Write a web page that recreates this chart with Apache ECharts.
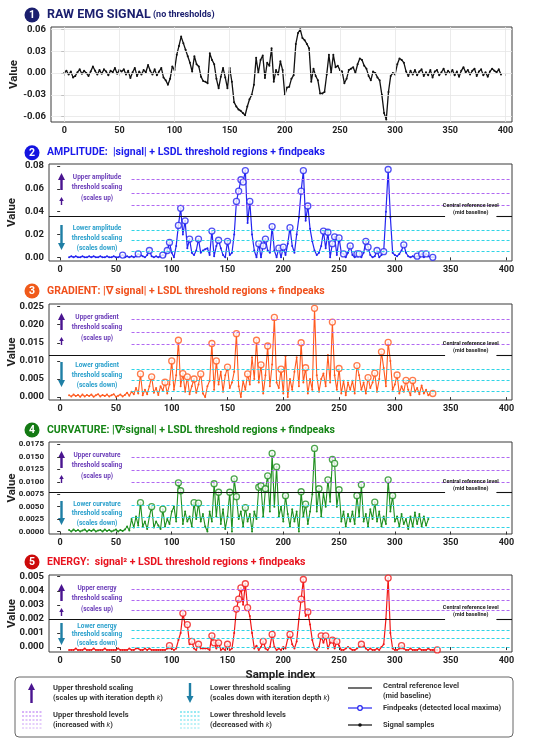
<!DOCTYPE html>
<html>
<head>
<meta charset="utf-8">
<script src="https://cdn.jsdelivr.net/npm/echarts@6/dist/echarts.min.js"></script>
<style>
  html, body { margin: 0; padding: 0; background: #fff; }
  #chart { width: 550px; height: 739px; }
</style>
</head>
<body>
<div id="chart"></div>
<script>
// sample index of the first value of each series, values are every 2 samples
const sampleStep = 2
const rawStart = 0
const ampStart = 8
const gradStart = 8
const curvStart = 8
const energyStart = 8

const sampleTicks = [0, 50, 100, 150, 200, 250, 300, 350, 400]
const rawTicks = [-0.06, -0.03, 0, 0.03, 0.06]
const ampTicks = [0, 0.02, 0.04, 0.06, 0.08]
const gradTicks = [0, 0.005, 0.01, 0.015, 0.02, 0.025]
const curvTicks = [0, 0.0025, 0.005, 0.0075, 0.01, 0.0125, 0.015, 0.0175]
const energyTicks = [0, 0.001, 0.002, 0.003, 0.004, 0.005]

const rawSignal = [
  0.000, 0.003, -0.002, 0.002, -0.006, -0.004, 0.001, 0.005, -0.001, 0.003,
  0.000, -0.004, 0.002, 0.009, 0.003, -0.002, 0.004, -0.001, 0.005, 0.002,
  -0.003, 0.003, 0.001, 0.007, -0.001, 0.004, 0.002, 0.005, -0.002, 0.003,
  -0.007, 0.001, 0.007, -0.004, 0.002, -0.002, 0.004, 0.001, 0.011, 0.003,
  -0.002, 0.005, -0.003, 0.002, 0.007, -0.006, -0.010, -0.016, -0.008, 0.009,
  0.004, 0.025, 0.037, 0.050, 0.041, 0.032, 0.023, 0.014, 0.002, 0.023,
  0.012, 0.009, -0.005, -0.011, -0.012, -0.014, 0.027, 0.018, 0.012, -0.008,
  -0.021, -0.005, 0.007, -0.006, -0.021, 0.007, -0.012, -0.040, -0.046, -0.050,
  -0.052, -0.055, -0.058, -0.046, -0.036, -0.030, -0.016, 0.021, 0.000, 0.018,
  0.024, -0.007, 0.014, 0.010, 0.034, -0.012, 0.004, -0.002, 0.016, 0.004,
  -0.030, -0.020, -0.019, -0.008, -0.003, 0.040, 0.055, 0.060, 0.048, 0.045,
  0.040, 0.034, -0.012, 0.006, -0.004, -0.010, -0.028, -0.028, -0.026, -0.002,
  0.025, 0.000, 0.025, 0.008, 0.010, 0.004, 0.002, -0.014, -0.008, 0.004,
  0.006, 0.008, 0.000, 0.012, 0.020, 0.018, 0.010, 0.006, -0.004, -0.010,
  0.002, 0.000, -0.006, -0.010, -0.030, -0.055, -0.064, -0.026, -0.004, 0.000,
  -0.002, 0.012, 0.020, 0.018, 0.014, 0.002, -0.004, 0.003, -0.002, 0.004,
  -0.003, 0.002, 0.005, -0.004, 0.001, -0.003, 0.004, -0.006, 0.002, 0.004,
  -0.003, 0.001, 0.006, -0.002, 0.003, 0.000, 0.004, -0.003, 0.002, -0.005,
  0.003, 0.008, 0.001, 0.004, -0.002, 0.003, 0.006, -0.004, 0.002, 0.005,
  -0.003, 0.001, -0.005, 0.002, 0.006, 0.003, 0.001, 0.005, -0.002
]

const ampSignal = [
  0.000, 0.001, 0.000, 0.001, 0.000, 0.000, 0.001, 0.000, 0.000, 0.001,
  0.000, 0.001, 0.000, 0.000, 0.001, 0.000, 0.000, 0.001, 0.000, 0.000,
  0.001, 0.000, 0.000, 0.001, 0.002, 0.000, 0.001, 0.000, 0.001, 0.000,
  0.001, 0.003, 0.002, 0.001, 0.000, 0.002, 0.006, 0.001, 0.000, 0.001,
  0.000, 0.001, 0.002, 0.001, 0.006, 0.013, 0.004, 0.000, 0.010, 0.028,
  0.043, 0.020, 0.032, 0.008, 0.016, 0.004, 0.002, 0.006, 0.016, 0.004,
  0.006, 0.007, 0.008, 0.002, 0.023, 0.001, 0.010, 0.015, 0.008, 0.002,
  0.000, 0.014, 0.002, 0.004, 0.020, 0.049, 0.058, 0.068, 0.066, 0.076,
  0.030, 0.049, 0.020, 0.006, 0.000, 0.012, 0.000, 0.010, 0.016, 0.006,
  0.004, 0.027, 0.006, 0.000, 0.008, 0.000, 0.009, 0.002, 0.012, 0.026,
  0.010, 0.004, 0.020, 0.035, 0.058, 0.076, 0.032, 0.045, 0.025, 0.014,
  0.006, 0.002, 0.004, 0.010, 0.023, 0.008, 0.022, 0.000, 0.012, 0.018,
  0.002, 0.017, 0.004, 0.003, 0.000, 0.004, 0.010, 0.002, 0.000, 0.003,
  0.003, 0.000, 0.004, 0.014, 0.009, 0.002, 0.000, 0.001, 0.006, 0.000,
  0.002, 0.005, 0.040, 0.077, 0.035, 0.004, 0.002, 0.001, 0.003, 0.006,
  0.011, 0.004, 0.001, 0.000, 0.001, 0.000, 0.001, 0.000, 0.003, 0.000,
  0.003, 0.001, 0.000, 0.000, 0.000
]
const ampPeaks = [
  [56, 0.002], [70, 0.003], [80, 0.006], [92, 0.002], [96, 0.006], [98, 0.013],
  [106, 0.028], [108, 0.043], [112, 0.032], [116, 0.016], [124, 0.016], [136, 0.023],
  [142, 0.015], [150, 0.014], [158, 0.049], [160, 0.058], [162, 0.068], [164, 0.066],
  [166, 0.076], [170, 0.049], [178, 0.012], [182, 0.010], [184, 0.016], [190, 0.027],
  [196, 0.008], [200, 0.009], [206, 0.026], [216, 0.058], [218, 0.076], [222, 0.045],
  [236, 0.023], [240, 0.022], [244, 0.012], [246, 0.018], [250, 0.017], [254, 0.003],
  [260, 0.010], [266, 0.003], [268, 0.003], [274, 0.014], [276, 0.009], [284, 0.006],
  [290, 0.005], [294, 0.077], [308, 0.011], [320, 0.001], [324, 0.003], [328, 0.003],
  [334, 0.000]
]

const gradSignal = [
  0.0005, 0.0002, 0.0007, 0.0003, 0.0006, 0.0001, 0.0007, 0.0002, 0.0006, 0.0003,
  0.0007, 0.0001, 0.0005, 0.0008, 0.0002, 0.0006, 0.0003, 0.0007, 0.0002, 0.0005,
  0.0008, 0.0001, 0.0004, 0.0007, 0.0002, 0.0006, 0.0012, 0.0004, 0.0015, 0.0008,
  0.0025, 0.0010, 0.0064, 0.0005, 0.0020, 0.0008, 0.0030, 0.0056, 0.0012, 0.0025,
  0.0006, 0.0030, 0.0018, 0.0041, 0.0010, 0.0035, 0.0100, 0.0020, 0.0060, 0.0157,
  0.0030, 0.0065, 0.0015, 0.0056, 0.0008, 0.0030, 0.0050, 0.0012, 0.0035, 0.0064,
  0.0010, 0.0000, 0.0030, 0.0045, 0.0148, 0.0020, 0.0100, 0.0035, 0.0070, 0.0015,
  0.0060, 0.0083, 0.0025, 0.0040, 0.0070, 0.0175, 0.0030, 0.0000, 0.0045, 0.0020,
  0.0064, 0.0035, 0.0110, 0.0050, 0.0157, 0.0040, 0.0089, 0.0010, 0.0060, 0.0141,
  0.0030, 0.0090, 0.0220, 0.0040, 0.0025, 0.0077, 0.0010, 0.0113, 0.0000, 0.0050,
  0.0020, 0.0070, 0.0110, 0.0030, 0.0150, 0.0040, 0.0081, 0.0010, 0.0050, 0.0020,
  0.0245, 0.0060, 0.0015, 0.0050, 0.0065, 0.0030, 0.0116, 0.0040, 0.0207, 0.0060,
  0.0020, 0.0079, 0.0010, 0.0045, 0.0005, 0.0040, 0.0020, 0.0045, 0.0010, 0.0087,
  0.0060, 0.0020, 0.0040, 0.0010, 0.0054, 0.0025, 0.0040, 0.0066, 0.0015, 0.0050,
  0.0125, 0.0080, 0.0030, 0.0151, 0.0100, 0.0020, 0.0035, 0.0061, 0.0010, 0.0030,
  0.0015, 0.0046, 0.0020, 0.0005, 0.0046, 0.0015, 0.0025, 0.0008, 0.0032, 0.0010,
  0.0020, 0.0005, 0.0010, 0.0010
]
const gradPeaks = [
  [72, 0.0064], [82, 0.0056], [94, 0.0041], [100, 0.0100], [106, 0.0157], [110, 0.0065],
  [114, 0.0056], [120, 0.0050], [126, 0.0064], [136, 0.0148], [140, 0.0100], [150, 0.0083],
  [158, 0.0175], [168, 0.0064], [176, 0.0157], [180, 0.0089], [186, 0.0141], [192, 0.0220],
  [198, 0.0077], [216, 0.0150], [220, 0.0081], [228, 0.0245], [244, 0.0207], [250, 0.0079],
  [266, 0.0087], [276, 0.0054], [282, 0.0066], [288, 0.0125], [294, 0.0151], [302, 0.0061],
  [310, 0.0046], [316, 0.0046], [334, 0.0010]
]

const curvSignal = [
  0.0003, 0.0000, 0.0004, 0.0001, 0.0003, 0.0000, 0.0002, 0.0004, 0.0000, 0.0003,
  0.0001, 0.0004, 0.0000, 0.0002, 0.0003, 0.0000, 0.0004, 0.0001, 0.0003, 0.0000,
  0.0002, 0.0004, 0.0000, 0.0003, 0.0001, 0.0004, 0.0010, 0.0002, 0.0025, 0.0008,
  0.0030, 0.0012, 0.0058, 0.0010, 0.0020, 0.0005, 0.0030, 0.0050, 0.0008, 0.0020,
  0.0012, 0.0005, 0.0045, 0.0010, 0.0025, 0.0015, 0.0040, 0.0050, 0.0020, 0.0098,
  0.0082, 0.0015, 0.0040, 0.0020, 0.0030, 0.0010, 0.0058, 0.0025, 0.0057, 0.0020,
  0.0035, 0.0010, 0.0000, 0.0040, 0.0020, 0.0096, 0.0030, 0.0079, 0.0015, 0.0045,
  0.0005, 0.0030, 0.0079, 0.0000, 0.0106, 0.0070, 0.0025, 0.0040, 0.0010, 0.0048,
  0.0020, 0.0035, 0.0000, 0.0040, 0.0025, 0.0089, 0.0092, 0.0030, 0.0086, 0.0112,
  0.0040, 0.0157, 0.0050, 0.0130, 0.0030, 0.0050, 0.0020, 0.0072, 0.0035, 0.0010,
  0.0045, 0.0020, 0.0040, 0.0000, 0.0080, 0.0030, 0.0055, 0.0015, 0.0040, 0.0075,
  0.0167, 0.0040, 0.0086, 0.0030, 0.0078, 0.0050, 0.0104, 0.0060, 0.0145, 0.0137,
  0.0050, 0.0084, 0.0020, 0.0040, 0.0010, 0.0035, 0.0020, 0.0040, 0.0015, 0.0072,
  0.0030, 0.0094, 0.0020, 0.0035, 0.0010, 0.0045, 0.0025, 0.0059, 0.0020, 0.0040,
  0.0010, 0.0030, 0.0015, 0.0104, 0.0040, 0.0072, 0.0020, 0.0030, 0.0010, 0.0035,
  0.0015, 0.0025, 0.0005, 0.0030, 0.0010, 0.0038, 0.0015, 0.0035, 0.0010, 0.0030,
  0.0012, 0.0025
]
const curvPeaks = [
  [72, 0.0058], [82, 0.0050], [92, 0.0045], [106, 0.0098], [108, 0.0082], [120, 0.0058],
  [124, 0.0057], [138, 0.0096], [142, 0.0079], [152, 0.0079], [156, 0.0106], [158, 0.0070],
  [166, 0.0048], [178, 0.0089], [180, 0.0092], [184, 0.0086], [186, 0.0112], [190, 0.0157],
  [194, 0.0130], [202, 0.0072], [216, 0.0080], [220, 0.0055], [228, 0.0167], [232, 0.0086],
  [240, 0.0104], [244, 0.0145], [246, 0.0137], [250, 0.0084], [266, 0.0072], [270, 0.0094],
  [282, 0.0059], [294, 0.0104], [298, 0.0072]
]

const energySignal = [
  -0.0002, -0.0002, -0.0002, -0.0001, -0.0002, -0.0002, -0.0002, -0.0001, -0.0002, -0.0002,
  -0.0002, -0.0001, -0.0002, -0.0002, -0.0002, -0.0002, -0.0001, -0.0002, -0.0002, -0.0002,
  -0.0002, -0.0002, -0.0001, -0.0002, -0.0002, -0.0002, -0.0002, -0.0001, -0.0002, -0.0002,
  -0.0001, -0.0001, -0.0002, -0.0002, -0.0001, -0.0002, -0.0001, -0.0002, -0.0002, -0.0002,
  -0.0002, -0.0002, -0.0002, -0.0002, -0.0001, 0.0001, -0.0001, -0.0002, -0.0001, 0.0005,
  0.0010, 0.0024, 0.0016, 0.0016, 0.0002, 0.0004, -0.0001, -0.0002, 0.0002, -0.0001,
  -0.0001, -0.0001, -0.0001, -0.0002, 0.0008, 0.0003, -0.0001, 0.0003, -0.0002, -0.0001,
  -0.0002, 0.0002, -0.0002, -0.0001, 0.0010, 0.0027, 0.0034, 0.0042, 0.0030, 0.0045,
  0.0028, 0.0022, 0.0010, -0.0001, 0.0001, -0.0002, 0.0000, 0.0004, -0.0001, -0.0002,
  0.0000, 0.0009, 0.0000, -0.0002, -0.0001, -0.0002, 0.0000, -0.0001, 0.0006, 0.0009,
  0.0002, -0.0001, 0.0004, 0.0020, 0.0034, 0.0048, 0.0022, 0.0025, 0.0016, 0.0005,
  -0.0001, -0.0002, 0.0000, 0.0008, 0.0003, 0.0008, -0.0001, 0.0003, 0.0005, -0.0001,
  0.0004, 0.0001, -0.0002, -0.0002, -0.0001, 0.0000, -0.0001, -0.0002, -0.0002, -0.0001,
  0.0000, 0.0002, 0.0001, -0.0001, -0.0002, -0.0001, -0.0002, -0.0002, -0.0001, -0.0002,
  0.0000, 0.0002, 0.0020, 0.0049, 0.0010, -0.0001, -0.0002, -0.0002, -0.0001, 0.0001,
  -0.0001, -0.0002, -0.0002, -0.0001, -0.0002, -0.0002, -0.0002, -0.0001, -0.0002, -0.0002,
  -0.0002, -0.0001, -0.0002, -0.0002, -0.0002, -0.0002
]
const energyPeaks = [
  [98, 0.0001], [110, 0.0024], [114, 0.0016], [118, 0.0004], [124, 0.0002], [136, 0.0008],
  [138, 0.0003], [142, 0.0003], [150, 0.0002], [158, 0.0027], [160, 0.0034], [162, 0.0042],
  [166, 0.0045], [168, 0.0028], [182, 0.0004], [190, 0.0009], [206, 0.0009], [216, 0.0034],
  [218, 0.0048], [222, 0.0025], [234, 0.0008], [238, 0.0008], [244, 0.0005], [248, 0.0004],
  [270, 0.0002], [294, 0.0049], [306, 0.0001], [338, -0.0002]
]

// LSDL threshold levels (upper / lower) and the central reference level
const ampUpper = [0.0453, 0.0566, 0.0683]
const ampLower = [0.0050, 0.0146, 0.0234]
const ampCentral = 0.0356
const gradUpper = [0.0146, 0.0179, 0.0216]
const gradLower = [0.0017, 0.0046, 0.0077]
const gradCentral = 0.0115
const curvUpper = [0.0100, 0.0124, 0.0149]
const curvLower = [0.0008, 0.0029, 0.0052]
const curvCentral = 0.0078
const energyUpper = [0.0026, 0.0033, 0.0041]
const energyLower = [0.0000, 0.0006, 0.0012]
const energyCentral = 0.0020

const thrFrom = 64
const thrTo = 403
const PURPLE_DASH = '#b068f2'
const CYAN_DASH = '#2fd4e6'
const UP_ARROW = '#4a1590'
const DOWN_ARROW = '#1f7fa5'
const UP_TEXT = '#6a3cb8'
const DOWN_TEXT = '#2aa0cc'
const FONT = 'Roboto, "Liberation Sans", sans-serif'

const panels = [
  { num: '1', badge: '#1b1f6e', color: '#1b1f6e', line: '#111111', titleY: 15, lineW: 1.3,
    title: '{m|RAW EMG SIGNAL}{s| (no thresholds)}', top: 27, height: 95, left: 51,
    xMin: -12, xMax: 406, yMin: -0.0673, yMax: 0.0632, ticks: rawTicks, digits: 2, labelSize: 9.5,
    start: rawStart, values: rawSignal },
  { num: '2', badge: '#1414e0', color: '#1a1aec', line: '#2424f0', titleY: 152.7, lineW: 1.2,
    title: '{t|AMPLITUDE:  |signal| + LSDL threshold regions + findpeaks}', top: 164, height: 97, left: 49,
    xMin: -10, xMax: 405, yMin: -0.0032, yMax: 0.0818, ticks: ampTicks, digits: 2, labelSize: 9.5,
    start: ampStart, values: ampSignal, peaks: ampPeaks, upper: ampUpper, lower: ampLower, central: ampCentral,
    word: 'amplitude', lowerOff: 61, arrowLen: 25 },
  { num: '3', badge: '#f05a1a', color: '#f0501c', line: '#ff5a1f', titleY: 291, lineW: 1.1,
    title: '{t|GRADIENT: |\u2207 signal| + LSDL threshold regions + findpeaks}', top: 304, height: 96, left: 49,
    xMin: -10, xMax: 405, yMin: -0.0008, yMax: 0.0257, ticks: gradTicks, digits: 3, labelSize: 9.5,
    start: gradStart, values: gradSignal, peaks: gradPeaks, upper: gradUpper, lower: gradLower, central: gradCentral,
    word: 'gradient', lowerOff: 58, arrowLen: 25 },
  { num: '4', badge: '#147a14', color: '#168516', line: '#1f8f1f', titleY: 430, lineW: 1.1,
    title: '{t|CURVATURE: |\u2207\u00b2signal| + LSDL threshold regions + findpeaks}', top: 442, height: 92, left: 49,
    xMin: -10, xMax: 405, yMin: -0.0005, yMax: 0.0180, ticks: curvTicks, digits: 4, labelSize: 8,
    start: curvStart, values: curvSignal, peaks: curvPeaks, upper: curvUpper, lower: curvLower, central: curvCentral,
    word: 'curvature', lowerOff: 59, arrowLen: 24 },
  { num: '5', badge: '#cc0a0a', color: '#e8121e', line: '#f01818', titleY: 562, lineW: 1.2,
    title: '{t|ENERGY:  signal\u00b2 + LSDL threshold regions + findpeaks}', top: 575, height: 77, left: 49,
    xMin: -10, xMax: 405, yMin: -0.00035, yMax: 0.00512, ticks: energyTicks, digits: 3, labelSize: 9.5,
    start: energyStart, values: energySignal, peaks: energyPeaks, upper: energyUpper, lower: energyLower, central: energyCentral,
    word: 'energy', lowerOff: 48, arrowLen: 22 }
]

function toPairs(start, values) {
  return values.map((v, k) => [start + sampleStep * k, v])
}

function arrow(x, yTip, yTail, headW, headH, shaftW, color) {
  const dir = yTail > yTip ? 1 : -1
  const yh = yTip + dir * headH
  return {
    type: 'polygon', silent: true,
    shape: { points: [[x, yTip], [x + headW / 2, yh], [x + shaftW / 2, yh], [x + shaftW / 2, yTail],
      [x - shaftW / 2, yTail], [x - shaftW / 2, yh], [x - headW / 2, yh]] },
    style: { fill: color }
  }
}

function txt(x, y, text, size, color, align, extra) {
  return {
    type: 'text', x: x, y: y, silent: true,
    style: Object.assign({ text: text, fill: color, align: align || 'left', verticalAlign: 'middle',
      font: 'bold ' + size + 'px ' + FONT }, extra || {})
  }
}

const grids = []
const xAxes = []
const yAxes = []
const series = []
const graphics = []

panels.forEach((p, i) => {
  grids.push({ left: p.left, right: 38, top: p.top, height: p.height, show: true,
    borderColor: '#3a3a3a', borderWidth: 1, backgroundColor: '#fff', containLabel: false, outerBoundsMode: 'none' })
  xAxes.push({
    gridIndex: i, type: 'value', min: p.xMin, max: p.xMax,
    name: i === 4 ? 'Sample index' : '', nameLocation: 'middle', nameGap: 17, nameMoveOverlap: false,
    nameTextStyle: { fontSize: 11.5, fontWeight: 'bold', color: '#222', fontFamily: FONT },
    axisLine: { show: false },
    axisTick: { show: true, customValues: sampleTicks, length: 3, lineStyle: { color: '#333' } },
    axisLabel: { customValues: sampleTicks, fontSize: 9, color: '#222', margin: 4, fontFamily: FONT, fontWeight: 'bold' },
    splitLine: { show: false }
  })
  yAxes.push({
    gridIndex: i, type: 'value', min: p.yMin, max: p.yMax,
    name: 'Value', nameLocation: 'middle', nameGap: 31, nameMoveOverlap: false,
    nameTextStyle: { fontSize: 11.5, fontWeight: 'bold', color: '#222', fontFamily: FONT },
    axisLine: { show: false },
    axisTick: { show: true, customValues: p.ticks, length: 3, lineStyle: { color: '#333' } },
    axisLabel: { customValues: p.ticks, fontSize: p.labelSize, color: '#222', margin: 5, fontFamily: FONT, fontWeight: 'bold',
      formatter: v => v.toFixed(p.digits) },
    splitLine: { show: false }
  })

  // background helpers: grid (panel 1) or threshold regions (panels 2-5)
  const lines = []
  if (!p.upper) {
    p.ticks.forEach(t => lines.push({ yAxis: t, lineStyle: { color: '#e6e6e6', width: 0.8, type: 'solid' } }))
    sampleTicks.forEach(t => lines.push({ xAxis: t, lineStyle: { color: '#e6e6e6', width: 0.8, type: 'solid' } }))
  } else {
    p.upper.forEach(v => lines.push([{ coord: [thrFrom, v], lineStyle: { color: PURPLE_DASH, width: 1, type: [3, 2] } }, { coord: [thrTo, v] }]))
    p.lower.forEach(v => lines.push([{ coord: [thrFrom, v], lineStyle: { color: CYAN_DASH, width: 1, type: [3, 2] } }, { coord: [thrTo, v] }]))
    lines.push([{ coord: [p.xMin, p.central], lineStyle: { color: '#111', width: 1.1, type: 'solid' } }, { coord: [345, p.central] }])
    lines.push([{ coord: [391, p.central], lineStyle: { color: '#111', width: 1.1, type: 'solid' } }, { coord: [p.xMax, p.central] }])
  }
  series.push({
    type: 'line', xAxisIndex: i, yAxisIndex: i, data: [], silent: true, z: 1,
    markLine: { silent: true, symbol: ['none', 'none'], label: { show: false }, animation: false, data: lines },
    markPoint: p.upper ? {
      silent: true, symbol: 'circle', symbolSize: 0, animation: false,
      label: { show: true, position: 'top', distance: 1, color: '#222', fontSize: 5.5, lineHeight: 7,
        fontWeight: 'bold', fontFamily: FONT, align: 'center',
        formatter: 'Central reference level\n(mid baseline)' },
      data: [{ coord: [368, p.central] }]
    } : undefined
  })

  series.push({
    type: 'line', xAxisIndex: i, yAxisIndex: i, data: toPairs(p.start, p.values),
    symbol: 'circle', symbolSize: 2, showSymbol: true, showAllSymbol: true, silent: true, z: 3,
    itemStyle: { color: p.line }, lineStyle: { color: p.line, width: p.lineW }, animation: false
  })
  if (p.peaks) {
    series.push({
      type: 'scatter', xAxisIndex: i, yAxisIndex: i, data: p.peaks, silent: true, z: 4,
      symbol: 'circle', symbolSize: 6,
      itemStyle: { color: '#fff', borderColor: p.line, borderWidth: 1.3 }, animation: false
    })
  }

  // title with numbered badge
  graphics.push({ type: 'circle', silent: true, shape: { cx: 32, cy: p.titleY, r: 7.5 }, style: { fill: p.badge } })
  graphics.push(txt(32, p.titleY + 0.5, p.num, 10.5, '#fff', 'center'))
  graphics.push({
    type: 'text', x: 47, y: p.titleY, silent: true,
    style: { text: p.title, verticalAlign: 'middle', align: 'left',
      rich: {
        m: { fill: p.color, fontSize: 12.5, fontWeight: 'bold', fontFamily: FONT },
        s: { fill: p.color, fontSize: 9, fontWeight: 'bold', fontFamily: FONT },
        t: { fill: p.color, fontSize: 10.5, fontWeight: 'bold', fontFamily: FONT }
      } }
  })

  // scaling annotations on the left of panels 2-5
  if (p.upper) {
    const ax = 61.5, tx = 97, t = p.top
    graphics.push(arrow(ax, t + 9, t + 26, 7, 7, 2.4, UP_ARROW))
    graphics.push(arrow(ax, t + 33, t + 41, 4.5, 4, 1.4, UP_ARROW))
    graphics.push(txt(tx, t + 13, 'Upper ' + p.word, 6.5, UP_TEXT, 'center'))
    graphics.push(txt(tx, t + 23.5, 'threshold scaling', 6.5, UP_TEXT, 'center'))
    graphics.push(txt(tx, t + 34, '(scales up)', 6.5, UP_TEXT, 'center'))
    const lt = t + p.lowerOff
    graphics.push(arrow(ax, lt + p.arrowLen, lt, 7, 7, 2.4, DOWN_ARROW))
    graphics.push(txt(tx, lt + 3, 'Lower ' + p.word, 6.5, DOWN_TEXT, 'center'))
    graphics.push(txt(tx, lt + 3 + p.arrowLen * 0.4, 'threshold scaling', 6.5, DOWN_TEXT, 'center'))
    graphics.push(txt(tx, lt + 3 + p.arrowLen * 0.8, '(scales down)', 6.5, DOWN_TEXT, 'center'))
  }
})

// legend box
const lg = { x: 15, y: 677, w: 498, h: 60 }
const kRich = { i: { fontStyle: 'italic', fontSize: 7.5, fill: '#333', fontFamily: FONT },
  n: { fontSize: 7.5, fontWeight: 'bold', fill: '#333', fontFamily: FONT } }
graphics.push({ type: 'rect', silent: true, shape: { x: lg.x, y: lg.y, width: lg.w, height: lg.h, r: 4 },
  style: { fill: '#fff', stroke: '#666', lineWidth: 1 } })
function legendText(x, y, line1, line2) {
  graphics.push(txt(x, y, line1, 7.5, '#333', 'left'))
  graphics.push({ type: 'text', x: x, y: y + 10.5, silent: true,
    style: { text: line2, rich: kRich, verticalAlign: 'middle', align: 'left' } })
}
function dashStack(x1, x2, color) {
  [712, 716, 720, 724, 728].forEach((yy, k) => graphics.push({ type: 'line', silent: true,
    shape: { x1: x1, y1: yy, x2: x2, y2: yy },
    style: { stroke: color, lineWidth: 1, lineDash: [2, 1.5], opacity: 1 - k * 0.12 } }))
}
graphics.push(arrow(31.5, 683, 703, 7, 7, 2.4, UP_ARROW))
legendText(53, 688, 'Upper threshold scaling', '{n|(scales up with iteration depth }{i|k}{n|)}')
dashStack(22, 42, PURPLE_DASH)
legendText(53, 715, 'Upper threshold levels', '{n|(increased with }{i|k}{n|)}')
graphics.push(arrow(190, 703, 683, 7, 7, 2.4, DOWN_ARROW))
legendText(210, 688, 'Lower threshold scaling', '{n|(scales down with iteration depth }{i|k}{n|)}')
dashStack(180, 200, CYAN_DASH)
legendText(210, 715, 'Lower threshold levels', '{n|(decreased with }{i|k}{n|)}')
graphics.push({ type: 'line', silent: true, shape: { x1: 348, y1: 688, x2: 372, y2: 688 }, style: { stroke: '#111', lineWidth: 1.2 } })
graphics.push(txt(383, 686.5, 'Central reference level', 7.5, '#333', 'left'))
graphics.push(txt(383, 696, '(mid baseline)', 7.5, '#333', 'left'))
graphics.push({ type: 'line', silent: true, shape: { x1: 348, y1: 708, x2: 372, y2: 708 }, style: { stroke: '#2424f0', lineWidth: 1.2 } })
graphics.push({ type: 'circle', silent: true, shape: { cx: 360, cy: 708, r: 2.3 }, style: { fill: '#fff', stroke: '#2424f0', lineWidth: 1.2 } })
graphics.push(txt(383, 708, 'Findpeaks (detected local maxima)', 7.5, '#333', 'left'))
graphics.push({ type: 'line', silent: true, shape: { x1: 348, y1: 725, x2: 372, y2: 725 }, style: { stroke: '#111', lineWidth: 1.2 } })
graphics.push({ type: 'circle', silent: true, shape: { cx: 360, cy: 725, r: 1.8 }, style: { fill: '#111' } })
graphics.push(txt(383, 725, 'Signal samples', 7.5, '#333', 'left'))

const chart = echarts.init(document.getElementById('chart'), null, { renderer: 'canvas' })
chart.setOption({
  animation: false,
  backgroundColor: '#fff',
  textStyle: { fontFamily: FONT },
  grid: grids,
  xAxis: xAxes,
  yAxis: yAxes,
  series: series,
  graphic: { elements: graphics }
})
</script>
</body>
</html>
